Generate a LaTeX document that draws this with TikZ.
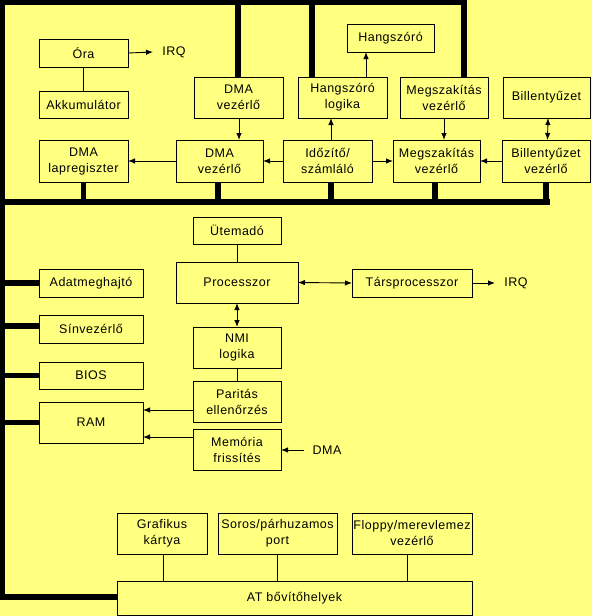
\documentclass[tikz,border=0pt]{standalone}
\usepackage{fontspec}
\setmainfont{Liberation Sans}[LetterSpace=4]
\usetikzlibrary{arrows.meta}
\definecolor{bgy}{RGB}{255,255,128}
\begin{document}
\begin{tikzpicture}[x=1pt,y=-1pt,
 box/.style={draw, line width=0.9pt, inner sep=0pt, outer sep=0pt, align=center, font=\fontsize{12.5}{16}\selectfont},
 bus/.style={line width=5.5pt},
 wire/.style={line width=0.9pt},
 arr/.style={wire,-{Latex[length=7pt,width=5.5pt]}},
 darr/.style={wire,{Latex[length=7pt,width=5.5pt]}-{Latex[length=7pt,width=5.5pt]}},
 lbl/.style={inner sep=0pt, font=\fontsize{12.5}{16}\selectfont}]
\fill[bgy] (0,0) rectangle (592,616);
\useasboundingbox (0,0) rectangle (592,616);

% top rows
\node[box, minimum width=89pt, minimum height=28pt] (ora) at (83.5,53) {Óra};
\node[box, minimum width=89pt, minimum height=27pt] (akku) at (83.5,104.5) {Akkumulátor};
\node[box, minimum width=89pt, minimum height=41pt] (dmavu) at (238.5,97.5) {DMA\\vezérlő};
\node[box, minimum width=87pt, minimum height=28pt] (hang) at (390.5,38) {Hangszóró};
\node[box, minimum width=89pt, minimum height=41pt] (hanglog) at (342.5,97.5) {Hangszóró\\logika};
\node[box, minimum width=88pt, minimum height=41pt] (megu) at (444,97.5) {Megszakítás\\vezérlő};
\node[box, minimum width=87pt, minimum height=41pt] (bill) at (546.5,97.5) {Billentyűzet};
\node[box, minimum width=89pt, minimum height=42pt] (lap) at (83.5,161) {DMA\\lapregiszter};
\node[box, minimum width=87pt, minimum height=42pt] (dmal) at (219.5,161) {DMA\\vezérlő};
\node[box, minimum width=89pt, minimum height=42pt] (idoz) at (327.5,161) {Időzítő/\\számláló};
\node[box, minimum width=87pt, minimum height=42pt] (megl) at (436.5,161) {Megszakítás\\vezérlő};
\node[box, minimum width=88pt, minimum height=42pt] (billv) at (546,161) {Billentyűzet\\vezérlő};

% middle
\node[box, minimum width=88pt, minimum height=27pt] (utem) at (237,230.5) {Ütemadó};
\node[box, minimum width=122pt, minimum height=41pt] (proc) at (237,282.5) {Processzor};
\node[box, minimum width=88pt, minimum height=41pt] (nmi) at (237,347.5) {NMI\\logika};
\node[box, minimum width=88pt, minimum height=41pt] (parit) at (237,401.5) {Paritás\\ellenőrzés};
\node[box, minimum width=88pt, minimum height=41pt] (memf) at (237,449.5) {Memória\\frissítés};
\node[box, minimum width=104pt, minimum height=28pt] (adat) at (91,283) {Adatmeghajtó};
\node[box, minimum width=104pt, minimum height=28pt] (sin) at (91,329) {Sínvezérlő};
\node[box, minimum width=104pt, minimum height=27pt] (bios) at (91,375.5) {BIOS};
\node[box, minimum width=104pt, minimum height=41pt] (ram) at (91,422.5) {RAM};
\node[box, minimum width=120pt, minimum height=28pt] (tars) at (412,283) {Társprocesszor};

% bottom
\node[box, minimum width=90pt, minimum height=41pt] (graf) at (162,533.5) {Grafikus\\kártya};
\node[box, minimum width=119pt, minimum height=41pt] (soros) at (277.5,533.5) {Soros/párhuzamos\\port};
\node[box, minimum width=120pt, minimum height=41pt] (flop) at (412,533.5) {Floppy/merevlemez\\vezérlő};
\node[box, minimum width=355pt, minimum height=34pt] (atb) at (294.5,598) {AT bővítőhelyek};

% labels
\node[lbl] (irq1) at (174,52) {IRQ};
\node[lbl] (irq2) at (516,283) {IRQ};
\node[lbl] (dmat) at (327,450) {DMA};
\coordinate (irq1e) at (153,52);
\coordinate (irq2e) at (495,283);
\coordinate (dmas) at (304,450);

% bus coordinates
\coordinate (tl) at (2.7,2.7);
\coordinate (tr) at (464,2.7);
\coordinate (bl) at (2.7,597);
\coordinate (hb0) at (2.7,202);
\coordinate (hb1) at (550,202);

% thick bus lines
\draw[bus, line join=miter] (tr |- megu.north) -- (tr) -- (tl) -- (bl) -- (atb.west |- bl);
\draw[bus] (hb0) -- (hb1);
\draw[bus] (238,2.7) -- (238,0 |- dmavu.north);
\draw[bus] (312,2.7) -- (312,0 |- hanglog.north);
\draw[bus] (lap.south) -- (lap.south |- hb0);
\draw[bus] ([xshift=-1.5pt]dmal.south) -- ([xshift=-1.5pt]dmal.south |- hb0);
\draw[bus] ([xshift=3.5pt]idoz.south) -- ([xshift=3.5pt]idoz.south |- hb0);
\draw[bus] ([xshift=-1.5pt]megl.south) -- ([xshift=-1.5pt]megl.south |- hb0);
\draw[bus] (billv.south) -- (billv.south |- hb0);
\draw[bus] (adat.west) -- (adat.west -| tl);
\draw[bus] ([yshift=3pt]sin.west) -- ([yshift=3pt]sin.west -| tl);
\draw[bus] (bios.west) -- (bios.west -| tl);
\draw[bus] (ram.west) -- (ram.west -| tl);

% thin connectors
\draw[arr] (ora.east) -- (irq1e);
\draw[wire] (ora.south) -- (akku.north);
\draw[arr] ([xshift=0.5pt]dmavu.south) -- ([xshift=0.5pt]dmavu.south |- dmal.north);
\draw[arr] (dmal.west) -- (lap.east);
\draw[arr] (idoz.west) -- (dmal.east);
\draw[arr] ([xshift=23.5pt]hanglog.north) -- ([xshift=23.5pt]hanglog.north |- hang.south);
\draw[arr] ([xshift=3.5pt]idoz.north) -- ([xshift=3.5pt]idoz.north |- hanglog.south);
\draw[arr] (idoz.east) -- (megl.west);
\draw[arr] (megu.south) -- (megu.south |- megl.north);
\draw[arr] (billv.west) -- (megl.east);
\draw[darr] ([xshift=1.5pt]bill.south) -- ([xshift=1.5pt]billv.north);
\draw[wire] (utem.south) -- (proc.north);
\draw[darr] (proc.south) -- (nmi.north);
\draw[wire] (nmi.south) -- (parit.north);
\draw[darr] (proc.east) -- (tars.west);
\draw[arr] (tars.east) -- (irq2e);
\draw[arr] ([yshift=-8.5pt]parit.west) -- ([yshift=-8.5pt]parit.west -| ram.east);
\draw[arr] ([yshift=12.5pt]memf.west) -- ([yshift=12.5pt]memf.west -| ram.east);
\draw[arr] (dmas) -- (dmas -| memf.east);
\draw[wire] ([xshift=1pt]graf.south) -- ([xshift=1pt]graf.south |- atb.north);
\draw[wire] (soros.south) -- (soros.south |- atb.north);
\draw[wire] ([xshift=-5pt]flop.south) -- ([xshift=-5pt]flop.south |- atb.north);
\end{tikzpicture}
\end{document}
